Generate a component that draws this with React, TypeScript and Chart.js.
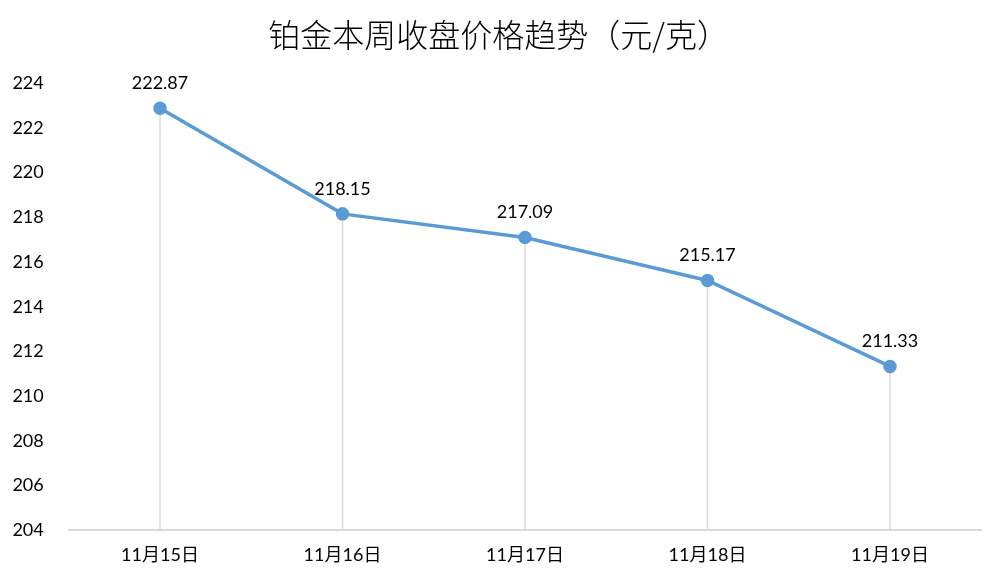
import React, { useEffect, useRef } from "react";
import { Chart, registerables } from "chart.js";

Chart.register(...registerables);

const categories = ["11月15日", "11月16日", "11月17日", "11月18日", "11月19日"];
const prices = [222.87, 218.15, 217.09, 215.17, 211.33];
const priceLabels = ["222.87", "218.15", "217.09", "215.17", "211.33"];
const yMin = 204;
const yMax = 224;
const yStep = 2;
const titleText = "铂金本周收盘价格趋势（元/克）";

const LATIN = "Lato, 'Noto Sans CJK SC', sans-serif";

const dropLines = {
  id: "dropLines",
  beforeDatasetsDraw(chart: any) {
    const { ctx, chartArea } = chart;
    const meta = chart.getDatasetMeta(0);
    ctx.save();
    ctx.strokeStyle = "#d9d9d9";
    ctx.lineWidth = 1.5;
    meta.data.forEach((pt: any) => {
      ctx.beginPath();
      ctx.moveTo(pt.x, pt.y);
      ctx.lineTo(pt.x, chartArea.bottom);
      ctx.stroke();
    });
    ctx.restore();
  },
};

const dataLabels = {
  id: "dataLabels",
  afterDatasetsDraw(chart: any) {
    const { ctx } = chart;
    const meta = chart.getDatasetMeta(0);
    ctx.save();
    ctx.fillStyle = "#000000";
    ctx.font = "18px " + LATIN;
    ctx.textAlign = "center";
    ctx.textBaseline = "middle";
    meta.data.forEach((pt: any, i: number) => {
      ctx.fillText(priceLabels[i], pt.x, pt.y - 25);
    });
    ctx.restore();
  },
};

export default function App() {
  const ref = useRef<HTMLCanvasElement>(null);
  useEffect(() => {
    document.body.style.margin = "0";
    const chart = new Chart(ref.current!, {
      type: "line",
      data: {
        labels: categories,
        datasets: [
          {
            data: prices,
            yAxisID: "y",
            borderColor: "#5b9bd5",
            backgroundColor: "#5b9bd5",
            borderWidth: 3.5,
            pointRadius: 5,
            pointBackgroundColor: "#5b9bd5",
            pointBorderColor: "#5b9bd5",
            tension: 0,
          },
        ],
      },
      options: {
        animation: false,
        responsive: false,
        layout: { padding: { left: 8, right: 14.75, top: 0, bottom: 0 } },
        plugins: {
          legend: { display: false },
          tooltip: { enabled: false },
          title: {
            display: true,
            text: titleText,
            color: "#000000",
            font: { family: "'Noto Sans CJK SC', sans-serif", size: 32, weight: 300 },
            padding: { top: 16, bottom: 28.6 },
          },
        },
        scales: {
          x: {
            offset: true,
            grid: { display: false, drawTicks: false },
            border: { display: true, color: "#d9d9d9", width: 2 },
            ticks: {
              color: "#000000",
              font: { family: LATIN, size: 18 },
              padding: 14,
            },
          },
          y: {
            position: "left",
            min: yMin,
            max: yMax,
            grid: { display: false, drawTicks: false },
            border: { display: false },
            ticks: {
              stepSize: yStep,
              color: "#000000",
              font: { family: LATIN, size: 18 },
              padding: 25,
            },
            afterFit: (s: any) => {
              s.width = 60.75;
            },
          },
          y2: {
            type: "linear",
            position: "right",
            min: yMin,
            max: yMax,
            grid: { display: false, drawTicks: false },
            border: { display: false },
            ticks: { display: false },
            afterFit: (s: any) => {
              s.width = 8;
            },
          },
        },
      },
      plugins: [dropLines, dataLabels],
    });
    return () => chart.destroy();
  }, []);
  return (
    <div style={{ width: 1004, height: 580, background: "#ffffff" }}>
      <canvas ref={ref} width={1004} height={580} />
    </div>
  );
}
